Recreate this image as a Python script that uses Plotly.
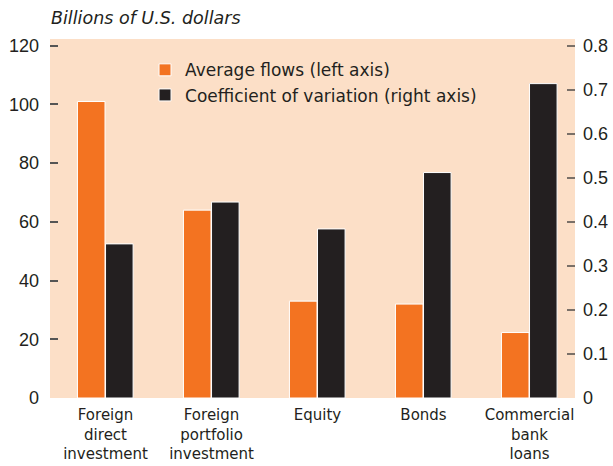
"""Average capital flows and their coefficient of variation, by flow type."""

import plotly.graph_objects as go
from plotly.subplots import make_subplots

CATEGORIES = [
    "Foreign<br>direct<br>investment",
    "Foreign<br>portfolio<br>investment",
    "Equity",
    "Bonds",
    "Commercial<br>bank<br>loans",
]
AVERAGE_FLOWS = [101, 64, 33, 32, 22.3]  # billions of U.S. dollars, left axis
COEF_VARIATION = [0.35, 0.445, 0.384, 0.512, 0.714]  # right axis

LEFT_TICKS = [0, 20, 40, 60, 80, 100, 120]
RIGHT_TICKS = [0, 0.1, 0.2, 0.3, 0.4, 0.5, 0.6, 0.7, 0.8]
RIGHT_TICK_TEXT = ["0", "0.1", "0.2", "0.3", "0.4", "0.5", "0.6", "0.7", "0.8"]

ORANGE = "#F37321"
BLACK = "#231F20"
PEACH = "#FCDFC7"
TEXT = "#231F20"
NUM_FONT = "Liberation Sans, Arial, sans-serif"
LABEL_FONT = "DejaVu Sans, Verdana, sans-serif"

fig = make_subplots(specs=[[{"secondary_y": True}]])

fig.add_trace(
    go.Bar(
        x=list(range(len(CATEGORIES))),
        y=AVERAGE_FLOWS,
        name="Average flows (left axis)",
        marker={"color": ORANGE, "line": {"color": "white", "width": 1}},
        width=0.26,
        offset=-0.265,
    ),
    secondary_y=False,
)
fig.add_trace(
    go.Bar(
        x=list(range(len(CATEGORIES))),
        y=COEF_VARIATION,
        name="Coefficient of variation (right axis)",
        marker={"color": BLACK, "line": {"color": "white", "width": 1}},
        width=0.26,
        offset=0.0,
    ),
    secondary_y=True,
)

fig.update_layout(
    width=613,
    height=466,
    margin={"l": 50, "r": 38, "t": 39, "b": 68},
    paper_bgcolor="white",
    plot_bgcolor=PEACH,
    font={"family": NUM_FONT, "color": TEXT, "size": 18},
    showlegend=True,
    legend={
        "x": 0.181,
        "y": 0.963,
        "xanchor": "left",
        "yanchor": "top",
        "bgcolor": "rgba(0,0,0,0)",
        "font": {"family": LABEL_FONT, "size": 17, "color": TEXT},
        "tracegroupgap": 0,
        "itemwidth": 30,
    },
    annotations=[
        {
            "text": "<i>Billions of U.S. dollars</i>",
            "xref": "paper",
            "yref": "paper",
            "x": -0.002,
            "y": 1.059,
            "xanchor": "left",
            "yanchor": "middle",
            "showarrow": False,
            "font": {"family": LABEL_FONT, "size": 17.5, "color": TEXT},
        }
    ],
)

fig.update_xaxes(
    domain=[0, 1],
    tickmode="array",
    tickvals=list(range(len(CATEGORIES))),
    ticktext=CATEGORIES,
    range=[-0.524, 4.429],
    showgrid=False,
    zeroline=False,
    showline=False,
    ticks="",
    tickfont={"family": LABEL_FONT, "size": 15},
    ticklabelstandoff=6,
    automargin=False,
)
fig.update_yaxes(
    range=[0, 122.3],
    tickvals=LEFT_TICKS,
    ticks="inside",
    ticklen=8,
    tickwidth=1.5,
    tickcolor="#555555",
    showgrid=False,
    zeroline=False,
    showline=False,
    ticklabelstandoff=10,
    automargin=False,
    secondary_y=False,
)
fig.update_yaxes(
    range=[0, 0.8153],
    tickvals=RIGHT_TICKS,
    ticktext=RIGHT_TICK_TEXT,
    ticks="inside",
    ticklen=8,
    tickwidth=1.5,
    tickcolor="#7a7068",
    showgrid=False,
    zeroline=False,
    showline=False,
    ticklabelstandoff=7,
    automargin=False,
    secondary_y=True,
)

# the page body has a default 8px margin; drop it so the figure fills the window
fig.write_html(
    "out.html",
    config={"displayModeBar": False},
    post_script="document.body.style.margin = '0';",
)
